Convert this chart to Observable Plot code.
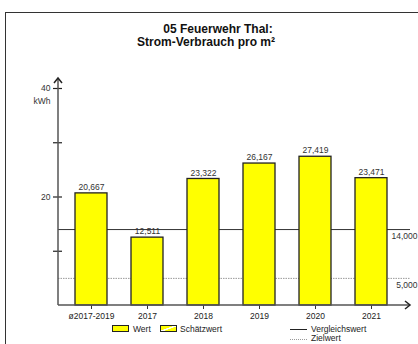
<!DOCTYPE html>
<html><head><meta charset="utf-8">
<script src="https://cdn.jsdelivr.net/npm/d3@7"></script>
<script src="https://cdn.jsdelivr.net/npm/@observablehq/plot@0.6"></script>
<style>
body{margin:0;background:#fff;font-family:"Liberation Sans",Arial,sans-serif;}
#wrap{position:relative;width:418px;height:344px;overflow:hidden;background:#fff;}
#frame{position:absolute;left:5px;top:12px;width:430px;height:360px;border-left:1px solid #333;border-top:1px solid #333;}
.t{position:absolute;font-weight:bold;font-size:12px;color:#111;white-space:nowrap;transform:translateX(-50%);}
#chart{position:absolute;left:0;top:0;}
.lg{position:absolute;font-size:8.5px;line-height:10px;color:#222;white-space:nowrap;}
.box{position:absolute;width:15px;height:5px;border:1px solid #222;background:#ffff00;}
</style></head>
<body>
<div id="wrap">
  <div id="frame"></div>
  <div id="chart"></div>
  <div class="t" id="t1" style="left:218px;top:22px;">05 Feuerwehr Thal:</div>
  <div class="t" id="t2" style="left:206px;top:35px;">Strom-Verbrauch pro m²</div>
  <div class="box" style="left:112px;top:325px;"></div>
  <div class="lg" style="left:133px;top:324px;">Wert</div>
  <div class="box" style="left:160px;top:325px;background:linear-gradient(160deg,#ffff00 40%,#fff 45%,#fff 55%,#ffff00 60%);"></div>
  <div class="lg" style="left:180px;top:324px;">Schätzwert</div>
  <div style="position:absolute;left:290px;top:329px;width:17px;border-top:1px solid #222;"></div>
  <div class="lg" style="left:311px;top:324px;">Vergleichswert</div>
  <div style="position:absolute;left:290px;top:339px;width:17px;border-top:1px dotted #999;"></div>
  <div class="lg" style="left:311px;top:333px;">Zielwert</div>
</div>
<script>
const categories = ["ø2017-2019","2017","2018","2019","2020","2021"];
const values = [20.667, 12.511, 23.322, 26.167, 27.419, 23.471];
const referenceValue = 14;   // Vergleichswert
const targetValue = 5;       // Zielwert
const yTicks = [10, 20, 30, 40];
const yLabels = [20, 40];

const data = categories.map((c, i) => ({cat: c, val: values[i]}));
const fmt = v => d3.format(".3f")(v).replace(".", ",");

const chart = Plot.plot({
  width: 418, height: 344,
  marginLeft: 58, marginRight: 8, marginTop: 88, marginBottom: 39,
  style: {fontFamily: "Liberation Sans, Arial, sans-serif", fontSize: "8.5px", background: "transparent", overflow: "visible"},
  x: {type: "band", domain: categories, range: [58, 403], paddingInner: 0.435, paddingOuter: 0.265, label: null},
  y: {domain: [0, 40], label: null},
  marks: [
    Plot.ruleY([targetValue], {stroke: "#999", strokeWidth: 1, strokeDasharray: "1.5,1"}),
    Plot.ruleY([referenceValue], {stroke: "#333", strokeWidth: 1}),
    Plot.barY(data, {x: "cat", y: "val", fill: "#ffff00", stroke: "#222", strokeWidth: 1.3}),
    Plot.text(data, {x: "cat", y: "val", text: d => fmt(d.val), dy: -6, fill: "#333", fontSize: 8.5}),
    Plot.text([referenceValue, targetValue], {y: d => d, text: d => fmt(d), frameAnchor: "right", textAnchor: "end", dx: 7, dy: 7, fill: "#333", fontSize: 8.5}),
    Plot.axisY({ticks: yTicks, tickSize: 9, dx: 4, tickPadding: 3, stroke: "#222", strokeWidth: 1.2,
      tickFormat: d => yLabels.includes(d) ? String(d) : "", fill: "#333", fontSize: 8.5}),
    Plot.text(["kWh"], {frameAnchor: "top-left", textAnchor: "end", dx: -8, dy: 9, fill: "#333", fontSize: 8.5}),
    Plot.axisX({tickSize: 4, tickPadding: 3, stroke: "#333", fill: "#222", fontSize: 8.5})
  ]
});
document.getElementById("chart").appendChild(chart);

// axis lines with arrow heads, positioned from the scales
const ys = chart.scale("y"), svg = d3.select(chart);
const x0 = 58, y0 = ys.apply(0), yTop = ys.apply(40) - 10, xEnd = 410;
const g = svg.append("g").attr("stroke", "#555").attr("fill", "none").attr("stroke-width", 1.5);
g.append("line").attr("x1", x0).attr("x2", x0).attr("y1", y0).attr("y2", yTop);
g.append("path").attr("d", `M${x0-4},${yTop+5}L${x0},${yTop}L${x0+4},${yTop+5}`).attr("stroke", "#222");
g.append("line").attr("x1", x0).attr("x2", xEnd).attr("y1", y0).attr("y2", y0);
g.append("path").attr("d", `M${xEnd-5},${y0-4}L${xEnd},${y0}L${xEnd-5},${y0+4}`).attr("stroke", "#222");
</script>
</body></html>
